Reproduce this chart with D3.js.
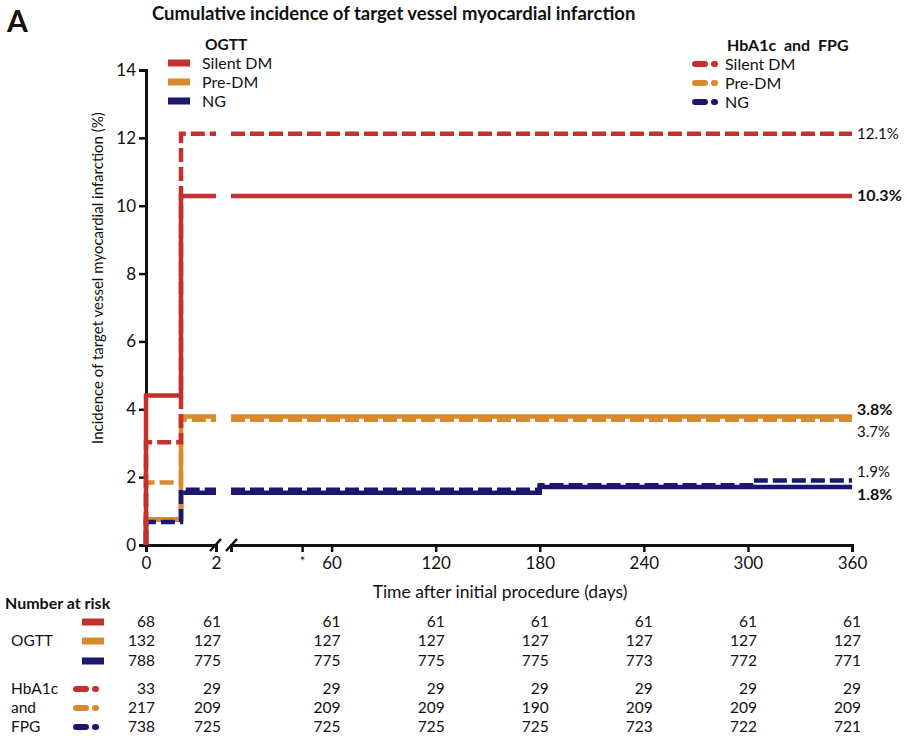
<!DOCTYPE html>
<html>
<head>
<meta charset="utf-8">
<script src="https://cdn.jsdelivr.net/npm/d3@7"></script>
<style>
  body { margin: 0; background: #fff; }
  text { font-family: Lato, "Open Sans", sans-serif; fill: #111; }
</style>
</head>
<body>
<div id="chart"></div>
<script>
// curves (days, cumulative %)
const ogttSilentDays = [0, 0, 1, 360];
const ogttSilentVals = [0, 4.41, 10.29, 10.29];
const ogttPreDays = [0, 0, 1, 360];
const ogttPreVals = [0, 0.76, 3.79, 3.79];
const ogttNgDays = [0, 0, 1, 180, 360];
const ogttNgVals = [0, 0.76, 1.54, 1.71, 1.71];

const hbSilentDays = [0, 0, 1, 360];
const hbSilentVals = [0, 3.03, 12.12, 12.12];
const hbPreDays = [0, 0, 1, 360];
const hbPreVals = [0, 1.84, 3.69, 3.69];
const hbNgDays = [0, 0, 1, 180, 303, 360];
const hbNgVals = [0, 0.68, 1.63, 1.76, 1.90, 1.90];

const groupNames = ["Silent DM", "Pre-DM", "NG"];
const yTicks = [0, 2, 4, 6, 8, 10, 12, 14];
const xTicksLeft = [0, 2];
const xTicksRight = [43, 60, 120, 180, 240, 300, 360];

// number at risk
const riskDays = [0, 2, 60, 120, 180, 240, 300, 360];
const riskOgttSilent = [68, 61, 61, 61, 61, 61, 61, 61];
const riskOgttPre = [132, 127, 127, 127, 127, 127, 127, 127];
const riskOgttNg = [788, 775, 775, 775, 775, 773, 772, 771];
const riskHbSilent = [33, 29, 29, 29, 29, 29, 29, 29];
const riskHbPre = [217, 209, 209, 209, 190, 209, 209, 209];
const riskHbNg = [738, 725, 725, 725, 725, 723, 722, 721];

const endLabels = [
  {text: "12.1%", v: 12.12, bold: false, dy: 0},
  {text: "10.3%", v: 10.29, bold: true, dy: 0},
  {text: "3.8%", v: 3.79, bold: true, dy: -7},
  {text: "3.7%", v: 3.69, bold: false, dy: 12},
  {text: "1.9%", v: 1.90, bold: false, dy: -9},
  {text: "1.8%", v: 1.71, bold: true, dy: 7}
];

const red = "#c4302d", orange = "#d88a2d", navy = "#1b1670";
const colors = [red, orange, navy];

const W = 906, H = 738;
const svg = d3.select("#chart").append("svg").attr("width", W).attr("height", H);

const y = d3.scaleLinear().domain([0, 14]).range([545, 70]);
const x1 = d3.scaleLinear().domain([0, 2]).range([146, 216]);
const x2 = d3.scaleLinear().domain([2, 360]).range([231, 852]);
const xPos = d => d <= 2 ? x1(d) : x2(d);

// title
svg.append("text").attr("x", 7).attr("y", 32).style("font-size", "30px").style("font-weight", "bold").text("A");
svg.append("text").attr("x", 152).attr("y", 20).style("font-size", "18.5px").style("font-weight", "bold")
  .text("Cumulative incidence of target vessel myocardial infarction");

// axes
const yAxis = svg.append("g").attr("transform", "translate(146,0)")
  .call(d3.axisLeft(y).tickValues(yTicks).tickSizeOuter(0).tickSize(7).tickPadding(3));
const xa1 = svg.append("g").attr("transform", "translate(0,545)")
  .call(d3.axisBottom(x1).tickValues(xTicksLeft).tickSizeOuter(0).tickSize(7).tickPadding(5)
    .tickFormat(d3.format("d")));
const xa2 = svg.append("g").attr("transform", "translate(0,545)")
  .call(d3.axisBottom(x2).tickValues(xTicksRight).tickSizeOuter(0).tickSize(7).tickPadding(5)
    .tickFormat(d => d === 43 ? "*" : d));
[yAxis, xa1, xa2].forEach(g => {
  g.select(".domain").attr("stroke", "#111").attr("stroke-width", 3);
  g.selectAll(".tick line").attr("stroke", "#111").attr("stroke-width", 2.5);
  g.selectAll(".tick text").style("font-size", "17px").attr("fill", "#111");
});
xa1.selectAll(".tick").filter(d => d === 2).select("line").remove();
xa2.selectAll(".tick").filter(d => d === 43).select("text")
  .style("font-size", "13px").attr("dy", "0.7em");

// axis break marks
[216, 232].forEach(cx => {
  svg.append("line").attr("x1", cx - 6).attr("y1", 551).attr("x2", cx + 5).attr("y2", 539)
    .attr("stroke", "#111").attr("stroke-width", 2.5);
});

svg.append("text").attr("transform", "translate(103,278) rotate(-90)")
  .attr("text-anchor", "middle").style("font-size", "15px")
  .text("Incidence of target vessel myocardial infarction (%)");
svg.append("text").attr("x", 500).attr("y", 598).attr("text-anchor", "middle").style("font-size", "17.5px")
  .text("Time after initial procedure (days)");

// curves
const valueAt = (days, vals, t) => {
  let v = vals[0];
  days.forEach((d, i) => { if (d <= t) v = vals[i]; });
  return v;
};
const line1 = d3.line().x(d => x1(d.t)).y(d => y(d.v)).curve(d3.curveStepAfter);
const line2 = d3.line().x(d => x2(d.t)).y(d => y(d.v)).curve(d3.curveStepAfter);

function drawCurve(days, vals, color, dashed) {
  const pts = days.map((d, i) => ({t: d, v: vals[i]}));
  const seg1 = pts.filter(p => p.t < 2).concat([{t: 2, v: valueAt(days, vals, 2)}]);
  const seg2 = [{t: 2, v: valueAt(days, vals, 2)}].concat(pts.filter(p => p.t > 2));
  [[seg1, line1], [seg2, line2]].forEach(([seg, ln]) => {
    svg.append("path").attr("d", ln(seg)).attr("fill", "none")
      .attr("stroke", color).attr("stroke-width", 4.5)
      .attr("stroke-dasharray", dashed ? "14,5" : null);
  });
}
drawCurve(ogttNgDays, ogttNgVals, navy, false);
drawCurve(ogttPreDays, ogttPreVals, orange, false);
drawCurve(hbNgDays, hbNgVals, navy, true);
drawCurve(hbPreDays, hbPreVals, orange, true);
drawCurve(ogttSilentDays, ogttSilentVals, red, false);
drawCurve(hbSilentDays, hbSilentVals, red, true);

// end labels
svg.selectAll("text.endlab").data(endLabels).enter().append("text")
  .attr("class", "endlab")
  .attr("x", x2(360) + 5).attr("y", d => y(d.v) + d.dy).attr("dy", "0.35em")
  .style("font-size", d => d.bold ? "16px" : "15px")
  .style("font-weight", d => d.bold ? "bold" : "normal")
  .text(d => d.text);

// legends
function solidSwatch(xx, yy, color) {
  svg.append("rect").attr("x", xx).attr("y", yy - 3.5).attr("width", 22).attr("height", 7).attr("fill", color);
}
function dashSwatch(xx, yy, color) {
  svg.append("line").attr("x1", xx + 3).attr("x2", xx + 13).attr("y1", yy).attr("y2", yy)
    .attr("stroke", color).attr("stroke-width", 6).attr("stroke-linecap", "round");
  svg.append("line").attr("x1", xx + 22).attr("x2", xx + 23).attr("y1", yy).attr("y2", yy)
    .attr("stroke", color).attr("stroke-width", 6).attr("stroke-linecap", "round");
}

svg.append("text").attr("x", 205).attr("y", 45).attr("dy", "0.35em")
  .style("font-size", "15.5px").style("font-weight", "bold").text("OGTT");
svg.append("text").attr("x", 727).attr("y", 45).attr("dy", "0.35em")
  .style("font-size", "16px").style("font-weight", "bold").style("white-space", "pre")
  .text("HbA1c  and  FPG");
const legendY = [63, 82, 101];
groupNames.forEach((g, i) => {
  solidSwatch(168, legendY[i], colors[i]);
  svg.append("text").attr("x", 202).attr("y", legendY[i]).attr("dy", "0.35em").style("font-size", "16px").text(g);
  dashSwatch(692, legendY[i] + 1, colors[i]);
  svg.append("text").attr("x", 725).attr("y", legendY[i] + 1).attr("dy", "0.35em").style("font-size", "16px").text(g);
});

// number at risk table
svg.append("text").attr("x", 5).attr("y", 603).attr("dy", "0.35em")
  .style("font-size", "16px").style("font-weight", "bold").text("Number at risk");
const rowY = [622, 641, 661, 689, 708, 727];
const riskRows = [riskOgttSilent, riskOgttPre, riskOgttNg, riskHbSilent, riskHbPre, riskHbNg];
[["OGTT", 641], ["HbA1c", 689], ["and", 708], ["FPG", 727]].forEach(([t, yy]) => {
  svg.append("text").attr("x", 11).attr("y", yy).attr("dy", "0.35em").style("font-size", "15.5px").text(t);
});
riskRows.forEach((row, r) => {
  const c = colors[r % 3];
  if (r < 3) solidSwatch(82, rowY[r], c); else dashSwatch(73, rowY[r], c);
  svg.selectAll(null).data(row).enter().append("text")
    .attr("x", (d, i) => riskDays[i] === 2 ? x1(2) + 5 : xPos(riskDays[i]) + 9)
    .attr("y", rowY[r]).attr("dy", "0.35em")
    .attr("text-anchor", "end").style("font-size", "15.5px")
    .text(d => d);
});
</script>
</body>
</html>
